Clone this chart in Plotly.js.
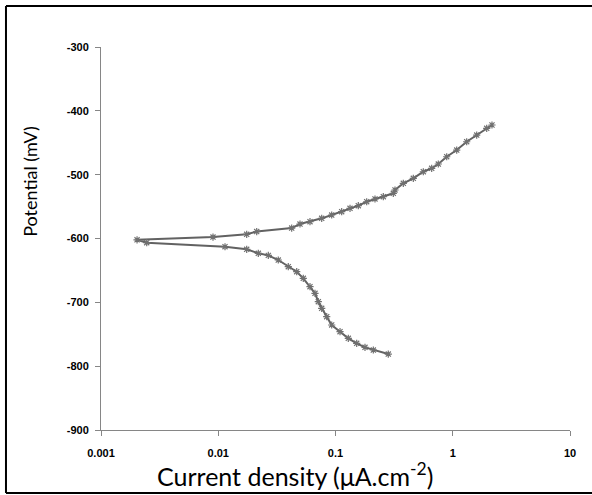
<!DOCTYPE html>
<html>
<head>
<meta charset="utf-8">
<script src="https://cdn.plot.ly/plotly-3.0.1.min.js"></script>
<style>html,body{margin:0;padding:0;background:#fff;}#chart{width:592px;height:495px;}</style>
</head>
<body>
<div id="chart"></div>
<script>
// Cathodic branch (from Ecorr down to the lowest potential)
const cathodicCurrent = [0.00203, 0.002454, 0.01142, 0.01748, 0.02196, 0.02673, 0.03251, 0.03957, 0.04669, 0.05313, 0.06061, 0.06686, 0.07135, 0.07626, 0.08414, 0.09281, 0.1093, 0.1286, 0.1516, 0.1785, 0.2102, 0.2820];
const cathodicPotential = [-602, -606.6, -612.9, -616.9, -623.2, -626.4, -633.7, -644.2, -652.0, -662.4, -675.5, -685.9, -699.0, -709.4, -722.5, -735.5, -746.0, -756.4, -764.2, -770.5, -774.7, -781.0];
// Anodic branch (from Ecorr up to the highest potential)
const anodicCurrent = [0.00203, 0.00902, 0.01748, 0.02128, 0.04230, 0.04980, 0.06061, 0.07626, 0.09281, 0.1129, 0.1330, 0.1565, 0.1845, 0.2172, 0.2557, 0.3112, 0.3218, 0.3788, 0.4609, 0.5609, 0.6613, 0.7530, 0.8880, 1.081, 1.315, 1.601, 1.948, 2.161];
const anodicPotential = [-602, -597.7, -593.4, -589.1, -583.6, -577.3, -573.7, -568.4, -563.2, -558.0, -552.7, -548.6, -542.4, -538.1, -534.5, -529.2, -524.0, -513.5, -505.7, -495.4, -490.0, -483.3, -471.9, -461.4, -448.4, -437.9, -427.4, -422.2];
const xTickVals = [0.001, 0.01, 0.1, 1, 10];
const xTickText = ['0.001', '0.01', '0.1', '1', '10'];
const yTickVals = [-900, -800, -700, -600, -500, -400, -300];
const yTickText = ['-900', '-800', '-700', '-600', '-500', '-400', '-300'];
const xTitle = 'Current density (μA.cm<sup>-2</sup>)';
const yTitle = 'Potential (mV)';

const xs = cathodicCurrent.slice().reverse().concat(anodicCurrent.slice(1));
const ys = cathodicPotential.slice().reverse().concat(anodicPotential.slice(1));

const trace = {
  x: xs, y: ys, type: 'scatter', mode: 'lines+markers',
  line: {color: '#626262', width: 2},
  marker: {symbol: 'asterisk-open', size: 6, color: '#707070', line: {color: '#707070', width: 1.2}},
  showlegend: false, hoverinfo: 'skip'
};

const tickFont = {family: 'Liberation Sans, Arial, sans-serif', size: 11, color: '#000', weight: 'bold'};
const titleFont = {family: 'Lato, Open Sans, sans-serif', color: '#000'};
const border = {color: '#000', width: 2};

const layout = {
  width: 592, height: 495,
  margin: {l: 101, r: 22, t: 47, b: 65},
  paper_bgcolor: '#fff', plot_bgcolor: '#fff',
  xaxis: {
    type: 'log', range: [-3, 1],
    tickvals: xTickVals, ticktext: xTickText,
    showgrid: false, zeroline: false,
    showline: true, linecolor: '#868686', linewidth: 1,
    ticks: 'outside', ticklen: 5, tickcolor: '#868686',
    tickfont: tickFont, ticklabelstandoff: 8
  },
  yaxis: {
    range: [-900, -300],
    tickvals: yTickVals, ticktext: yTickText,
    showgrid: false, zeroline: false,
    showline: true, linecolor: '#868686', linewidth: 1,
    ticks: 'outside', ticklen: 5, tickcolor: '#868686',
    tickfont: tickFont, ticklabelstandoff: 4
  },
  annotations: [
    {text: xTitle, xref: 'paper', yref: 'paper', x: 0.4136, y: -0.116, xanchor: 'center', yanchor: 'middle',
     showarrow: false, font: Object.assign({size: 25}, titleFont)},
    {text: yTitle, xref: 'paper', yref: 'paper', x: -0.152, y: 0.65, xanchor: 'center', yanchor: 'middle',
     textangle: -90, showarrow: false, font: Object.assign({size: 18}, titleFont)}
  ],
  shapes: [
    {type: 'line', xref: 'paper', yref: 'paper', x0: -0.2026, x1: -0.2026, y0: -0.1645, y1: 1.107, line: border},
    {type: 'line', xref: 'paper', yref: 'paper', x0: -0.2026, x1: 1.1, y0: 1.107, y1: 1.107, line: border},
    {type: 'line', xref: 'paper', yref: 'paper', x0: -0.2026, x1: 1.1, y0: -0.1645, y1: -0.1645, line: border}
  ]
};

Plotly.newPlot('chart', [trace], layout, {staticPlot: true, displayModeBar: false});
</script>
</body>
</html>
